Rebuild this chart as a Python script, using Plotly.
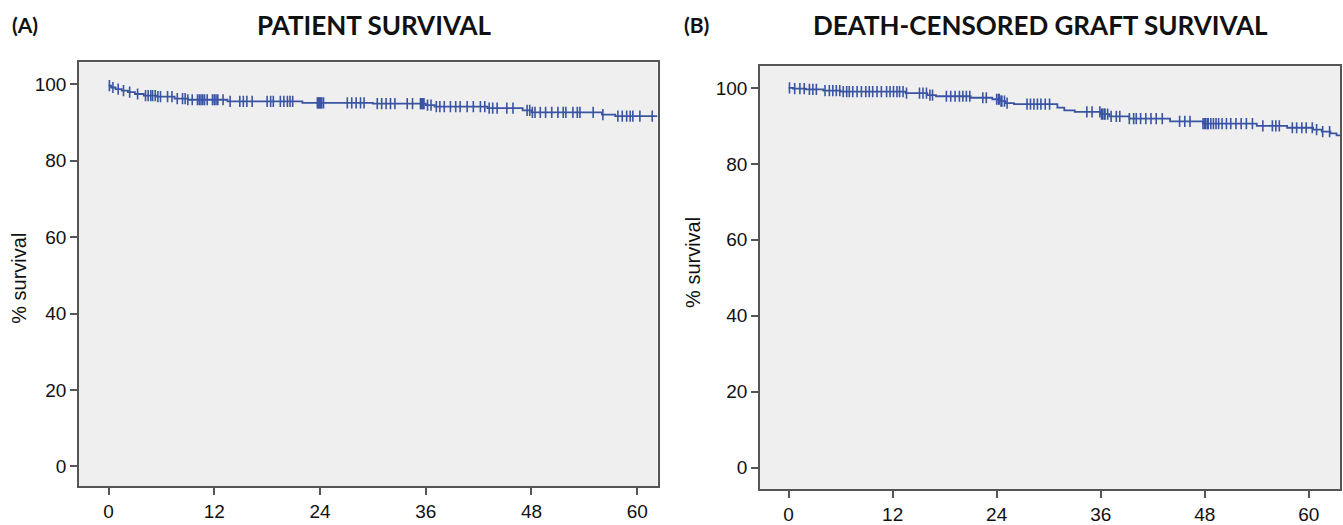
import numpy as np
import plotly.graph_objects as go

# ---------------- data ----------------
# Panel A: patient survival (Kaplan-Meier step function)
a_event_months = [0.0, 0.3, 0.8, 1.5, 2.2, 3.0, 4.0, 5.5, 7.5, 9.0, 13.5, 22.0, 30.0,
                  36.0, 37.0, 43.0, 47.0, 48.0, 56.0, 57.5]
a_survival = [99.6, 99.1, 98.7, 98.3, 97.9, 97.4, 97.0, 96.7, 96.2, 95.9, 95.5, 95.1, 94.9,
              94.5, 94.1, 93.7, 93.1, 92.6, 92.0, 91.6]
a_censored = [0.1, 0.5, 1.1, 1.7, 2.4, 3.3, 4.2, 4.5, 4.8, 5.0, 5.3, 5.6, 5.9, 6.7, 7.2, 7.8,
              8.4, 8.7, 9.0, 9.5, 10.1, 10.3, 10.5, 10.7, 10.9, 11.2, 11.8, 12.0, 12.2, 12.4,
              13.0, 13.8, 14.9, 15.3, 15.7, 16.3, 18.0, 18.4, 18.7, 19.5, 19.9, 20.3, 20.6,
              20.9, 23.7, 23.8, 23.9, 24.0, 24.1, 24.2, 24.4, 27.1, 27.6, 28.1, 28.6, 29.0,
              30.5, 31.0, 31.5, 32.0, 32.5, 33.9, 34.5, 35.4, 35.5, 35.6, 35.7, 35.8, 36.2,
              36.6, 37.2, 37.6, 38.1, 38.8, 39.4, 39.9, 40.7, 41.4, 42.2, 42.7, 43.2, 43.6,
              44.1, 45.2, 45.9, 47.5, 47.8, 48.1, 48.4, 49.0, 49.6, 50.3, 51.0, 51.6, 51.9,
              52.7, 53.2, 53.5, 55.0, 56.1, 57.8, 58.3, 58.8, 59.2, 59.5, 60.3, 61.7]

# Panel B: death-censored graft survival
b_event_months = [0.0, 0.5, 2.0, 4.0, 6.0, 13.5, 16.0, 17.0, 21.0, 23.5, 24.5, 25.0, 26.0,
                  31.0, 31.8, 33.0, 36.0, 37.0, 39.3, 44.0, 47.8, 54.0, 57.5, 60.5, 61.5,
                  62.5, 63.2]
b_survival = [100.0, 99.8, 99.6, 99.3, 99.0, 98.6, 98.1, 97.8, 97.4, 97.0, 96.5, 96.0, 95.7,
              94.8, 94.1, 93.7, 93.1, 92.5, 91.9, 91.2, 90.6, 90.0, 89.5, 89.0, 88.5,
              88.0, 87.5]
b_censored = [0.1, 0.7, 1.3, 1.8, 2.4, 2.8, 3.2, 4.2, 4.7, 5.1, 5.5, 5.9, 6.3, 6.7, 7.0,
              7.4, 7.9, 8.4, 8.9, 9.3, 9.7, 10.2, 10.7, 11.3, 11.7, 12.1, 12.5, 12.8,
              13.2, 13.6, 15.1, 15.5, 15.9, 16.3, 16.6, 18.2, 18.7, 19.2, 19.7, 20.1,
              20.5, 20.9, 22.4, 22.8, 24.0, 24.2, 24.3, 24.5, 24.6, 24.9, 25.2, 27.5, 27.9,
              28.3, 28.7, 29.1, 29.6, 30.1, 34.4, 35.0, 35.9, 36.1, 36.2, 36.4, 36.5, 36.8,
              37.2, 37.8, 38.2, 39.3, 39.8, 40.1, 40.6, 41.2, 41.8, 42.4, 43.1, 45.1, 45.7,
              46.3, 47.8, 48.0, 48.1, 48.3, 48.4, 48.7, 49.0, 49.3, 49.6, 50.0, 50.5, 51.0,
              51.6, 52.2, 52.8, 53.5, 54.7, 55.8, 56.2, 56.6, 58.1, 58.6, 59.2, 59.7, 60.4,
              60.9, 61.6, 62.4]

x_ticks = [0, 12, 24, 36, 48, 60]
y_ticks = [0, 20, 40, 60, 80, 100]

panel_titles = ["PATIENT SURVIVAL", "DEATH-CENSORED GRAFT SURVIVAL"]
panel_letters = ["(A)", "(B)"]
y_title = "% survival"

# ---------------- styling ----------------
W, H = 1343, 525
LINE_COLOR = "#3a54a4"
AX_COLOR = "#555555"
BG = "#efefef"


def step_value(events, surv, t):
    idx = np.searchsorted(np.asarray(events), t, side="right") - 1
    return np.asarray(surv)[np.clip(idx, 0, None)]


def px_x(p):
    return p / W


def px_y(p):
    return 1 - p / H


fig = go.Figure()

panels = [
    dict(ev=a_event_months, sv=a_survival, cz=a_censored, xa="x", ya="y",
         xdom=[px_x(79), px_x(657.5)], ydom=[px_y(492), px_y(63)],
         xr=[-3.35, 62.3], yr=[-5.2, 105.7], end=62.3),
    dict(ev=b_event_months, sv=b_survival, cz=b_censored, xa="x2", ya="y2",
         xdom=[px_x(760), px_x(1340)], ydom=[px_y(495), px_y(67)],
         xr=[-3.3, 63.6], yr=[-5.7, 105.7], end=63.6),
]

for p in panels:
    ev = np.asarray(p["ev"])
    sv = np.asarray(p["sv"])
    xs = np.append(ev, p["end"])
    ys = np.append(sv, sv[-1])
    fig.add_trace(go.Scatter(x=xs, y=ys, mode="lines", line=dict(color=LINE_COLOR, width=1.8, shape="hv"),
                             xaxis=p["xa"], yaxis=p["ya"], showlegend=False, hoverinfo="skip"))
    cz = np.asarray(p["cz"])
    fig.add_trace(go.Scatter(x=cz, y=step_value(ev, sv, cz), mode="markers",
                             marker=dict(symbol="line-ns", size=8, line=dict(color=LINE_COLOR, width=1.6)),
                             xaxis=p["xa"], yaxis=p["ya"], showlegend=False, hoverinfo="skip"))

axis_common = dict(showgrid=False, zeroline=False, showline=True, linecolor=AX_COLOR, linewidth=1.6,
                   mirror=True, ticks="outside", ticklen=7, tickwidth=1.5, tickcolor=AX_COLOR,
                   tickfont=dict(family="Liberation Sans, Arial", size=19, color="#111111"))

layout = dict(width=W, height=H, margin=dict(l=0, r=0, t=0, b=0),
              paper_bgcolor="white", plot_bgcolor=BG, showlegend=False)
for i, p in enumerate(panels):
    sfx = "" if i == 0 else "2"
    layout["xaxis" + sfx] = dict(axis_common, domain=p["xdom"], range=p["xr"], tickvals=x_ticks,
                                 anchor="y" + sfx)
    layout["yaxis" + sfx] = dict(axis_common, domain=p["ydom"], range=p["yr"], tickvals=y_ticks,
                                 anchor="x" + sfx)
fig.update_layout(**layout)

# titles, letters and y-axis titles
title_pos = [(374, 25), (1040, 25)]
letter_pos = [(25, 25), (696, 25)]
ytitle_pos = [(19, 282), (693, 266)]
for i in range(2):
    fig.add_annotation(x=px_x(title_pos[i][0]), y=px_y(title_pos[i][1]), xref="paper", yref="paper",
                       text="<b>" + panel_titles[i] + "</b>", showarrow=False,
                       font=dict(family="Lato", size=26, color="#111111"), xanchor="center", yanchor="middle")
    fig.add_annotation(x=px_x(letter_pos[i][0]), y=px_y(letter_pos[i][1]), xref="paper", yref="paper",
                       text="<b>" + panel_letters[i] + "</b>", showarrow=False,
                       font=dict(family="Lato", size=21, color="#111111"), xanchor="center", yanchor="middle")
    fig.add_annotation(x=px_x(ytitle_pos[i][0]), y=px_y(ytitle_pos[i][1]), xref="paper", yref="paper",
                       text=y_title, showarrow=False, textangle=-90,
                       font=dict(family="Liberation Sans, Arial", size=20, color="#111111"),
                       xanchor="center", yanchor="middle")

fig.write_html("out.html", config={"displayModeBar": False},
               post_script="document.body.style.margin='0';document.body.style.overflow='hidden';")
